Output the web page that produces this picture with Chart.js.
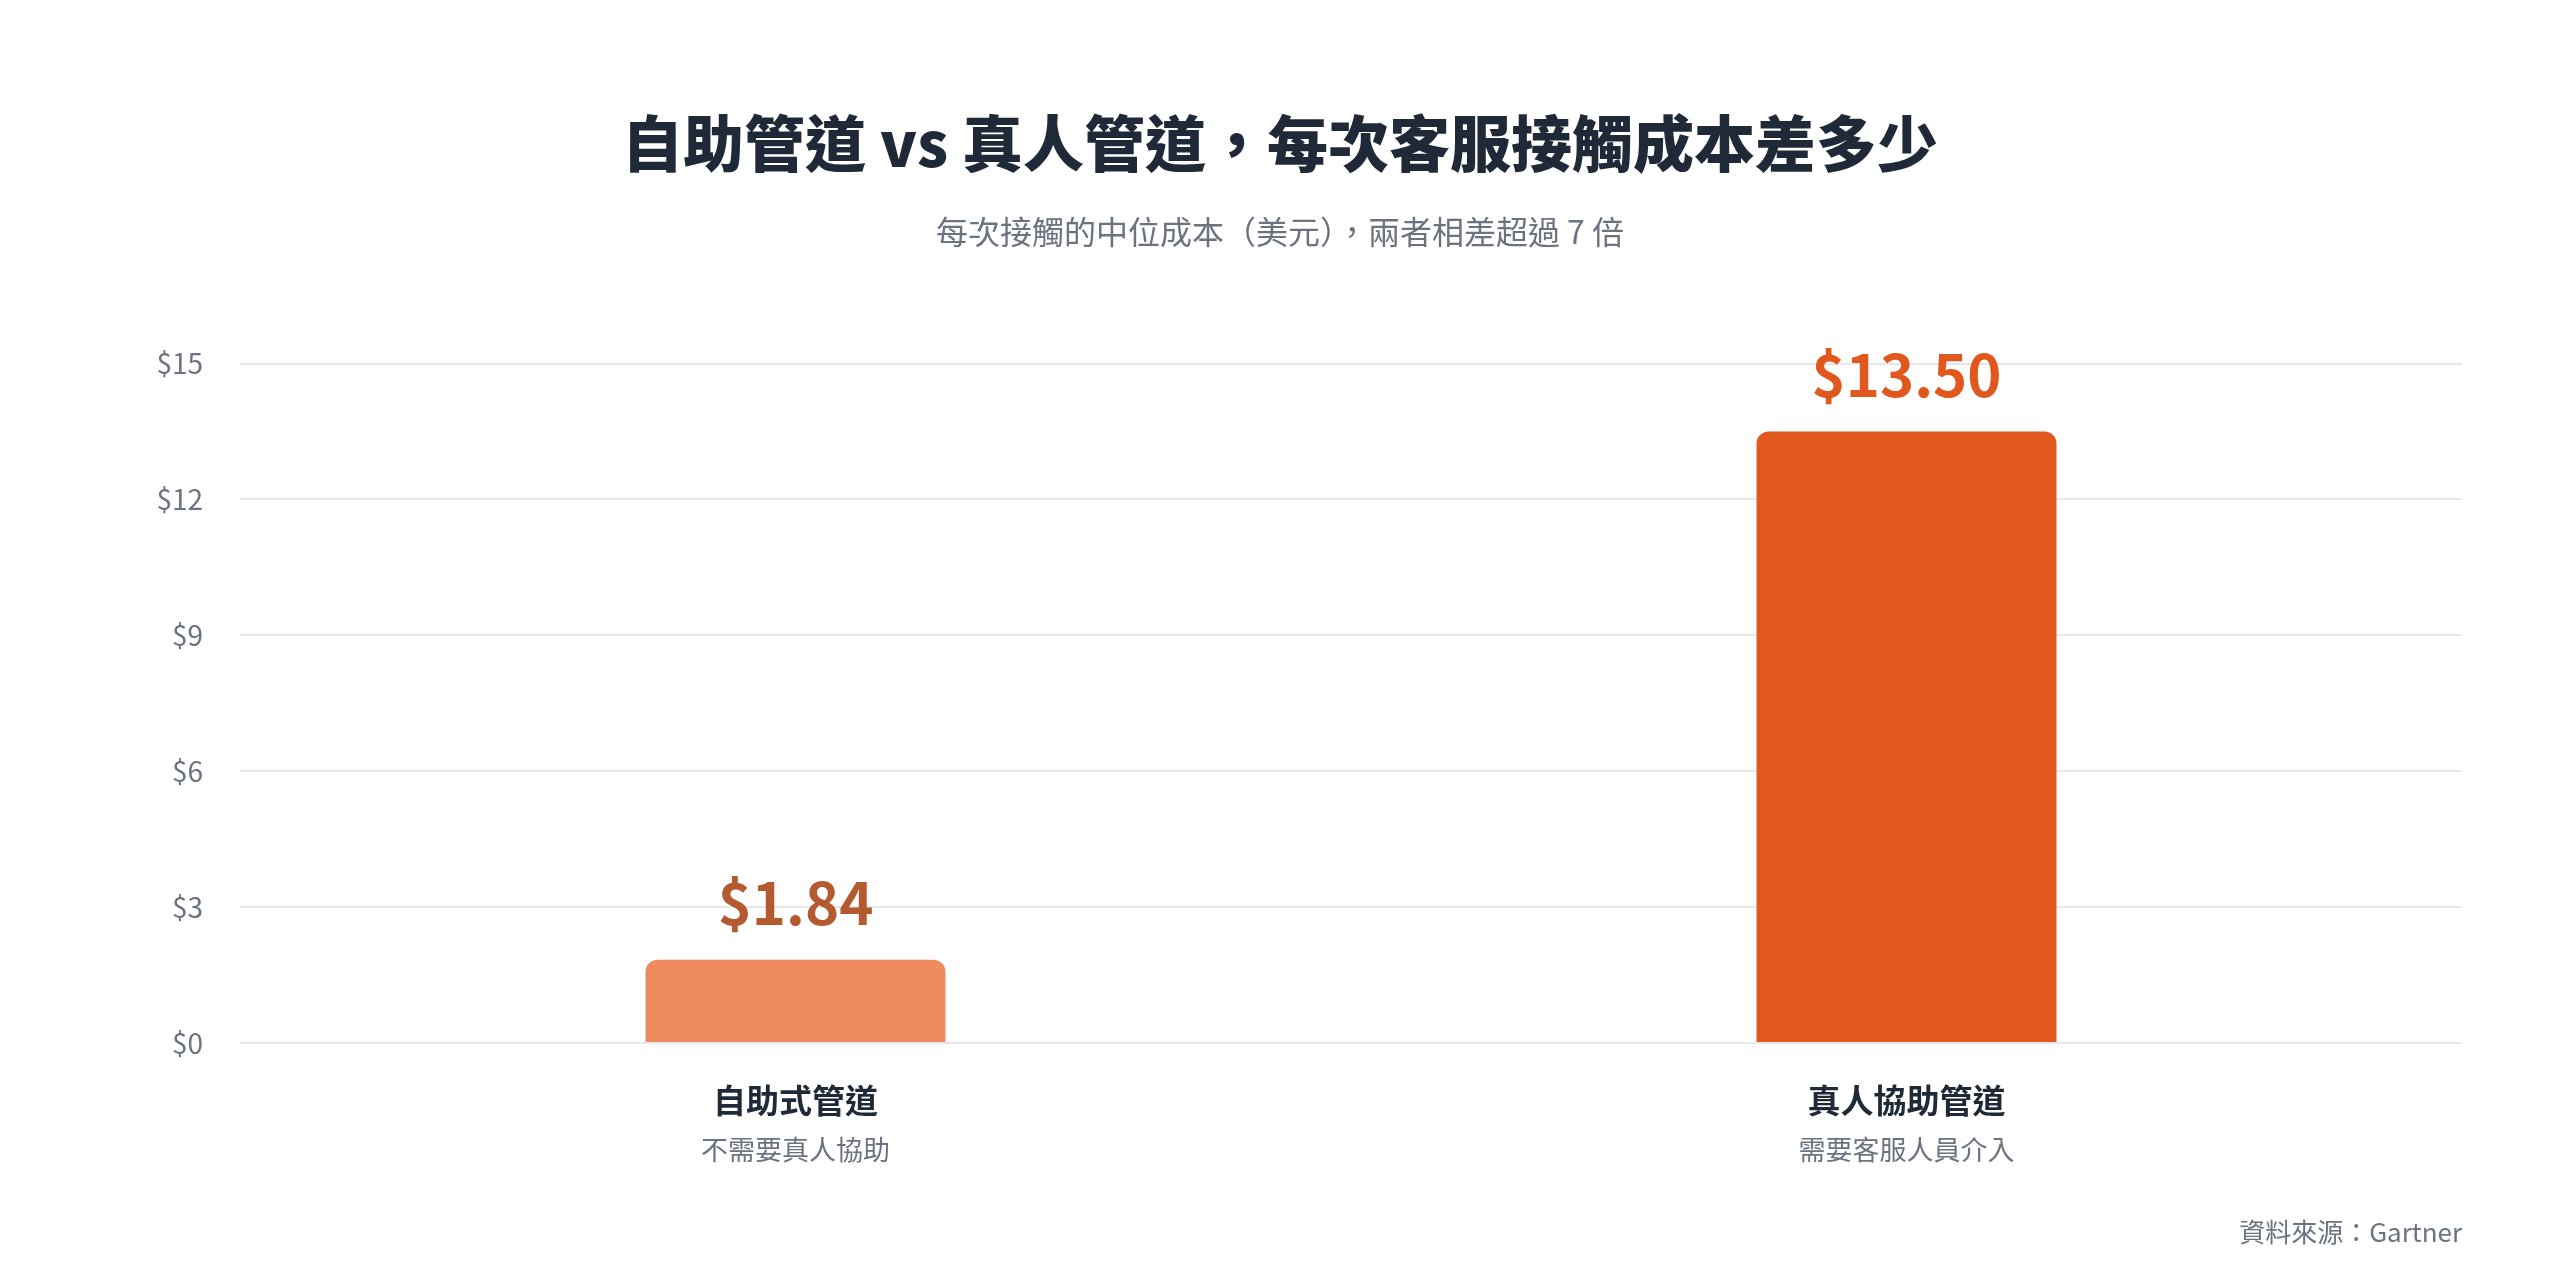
<!DOCTYPE html>
<html lang="zh-Hant">
<head>
<meta charset="utf-8">
<title>自助管道 vs 真人管道</title>
<script src="https://cdn.jsdelivr.net/npm/chart.js@4.4.1/dist/chart.umd.min.js"></script>
<style>
  html, body { margin: 0; padding: 0; background: #ffffff; }
  #wrap { width: 2560px; height: 1268px; position: relative; }
</style>
</head>
<body>
<div id="wrap"><canvas id="costChart"></canvas></div>
<script>
// 資料
var categories = ['自助式管道', '真人協助管道'];
var categoryNotes = ['不需要真人協助', '需要客服人員介入'];
var costs = [1.84, 13.50];
var yTicks = [0, 3, 6, 9, 12, 15];

var barColors = ['#EE8B5F', '#E1581F'];
var valueColors = ['#B45A30', '#E1581F'];
var FONT = "'Noto Sans CJK TC', 'Noto Sans', sans-serif";

// 自訂標籤：長條上方的數值、類別名稱與說明、資料來源
var labelPlugin = {
    id: 'labelPlugin',
    afterDraw: function (chart) {
        var ctx = chart.ctx;
        var meta = chart.getDatasetMeta(0);
        var xScale = chart.scales.x;
        ctx.save();
        ctx.textAlign = 'center';

        meta.data.forEach(function (bar, i) {
            ctx.fillStyle = valueColors[i];
            ctx.font = 'bold 58px ' + FONT;
            ctx.textBaseline = 'alphabetic';
            ctx.fillText('$' + costs[i].toFixed(2), bar.x, bar.y - 35);
        });

        categories.forEach(function (name, i) {
            var x = xScale.getPixelForValue(i);
            ctx.textBaseline = 'middle';
            ctx.fillStyle = '#1F2937';
            ctx.font = 'bold 33px ' + FONT;
            ctx.fillText(name, x, chart.chartArea.bottom + 57);
            ctx.fillStyle = '#6B7280';
            ctx.font = '27px ' + FONT;
            ctx.fillText(categoryNotes[i], x, chart.chartArea.bottom + 107);
        });

        ctx.textAlign = 'right';
        ctx.textBaseline = 'middle';
        ctx.fillStyle = '#6B7280';
        ctx.font = '26px ' + FONT;
        ctx.fillText('資料來源：Gartner', chart.chartArea.right, 1232);
        ctx.restore();
    }
};

document.addEventListener('DOMContentLoaded', function () {
    var ctx = document.getElementById('costChart').getContext('2d');
    new Chart(ctx, {
        type: 'bar',
        data: {
            labels: categories,
            datasets: [{
                label: '每次接觸成本',
                data: costs,
                backgroundColor: barColors,
                borderRadius: 12,
                borderSkipped: 'start',
                categoryPercentage: 1,
                barPercentage: 0.27
            }]
        },
        options: {
            responsive: true,
            maintainAspectRatio: false,
            animation: false,
            layout: {
                padding: { left: 0, right: 0, top: 0, bottom: 225 }
            },
            plugins: {
                legend: { display: false },
                tooltip: { enabled: false },
                title: {
                    display: true,
                    text: '自助管道 vs 真人管道，每次客服接觸成本差多少',
                    color: '#1F2937',
                    font: { family: FONT, size: 61, weight: 900, lineHeight: 1.2 },
                    padding: { top: 107, bottom: 0 }
                },
                subtitle: {
                    display: true,
                    text: '每次接觸的中位成本（美元），兩者相差超過 7 倍',
                    color: '#6B7280',
                    font: { family: FONT, size: 32, lineHeight: 1.2 },
                    padding: { top: 32, bottom: 113 }
                }
            },
            scales: {
                x: {
                    display: false
                },
                y: {
                    min: 0,
                    max: 15,
                    afterBuildTicks: function (axis) {
                        axis.ticks = yTicks.map(function (v) { return { value: v }; });
                    },
                    afterFit: function (axis) {
                        axis.width = 240;
                    },
                    border: { display: false },
                    grid: {
                        color: '#E5E7EB',
                        lineWidth: 2,
                        drawTicks: false
                    },
                    ticks: {
                        padding: 37,
                        color: '#6B7280',
                        font: { family: FONT, size: 28 },
                        callback: function (v) { return '$' + v; }
                    }
                },
                // 右側留白用的空白座標軸
                yRight: {
                    position: 'right',
                    min: 0,
                    max: 15,
                    border: { display: false },
                    grid: { display: false, drawTicks: false },
                    ticks: { display: false },
                    afterFit: function (axis) {
                        axis.width = 98;
                    }
                }
            }
        },
        plugins: [labelPlugin]
    });
});
</script>
</body>
</html>
